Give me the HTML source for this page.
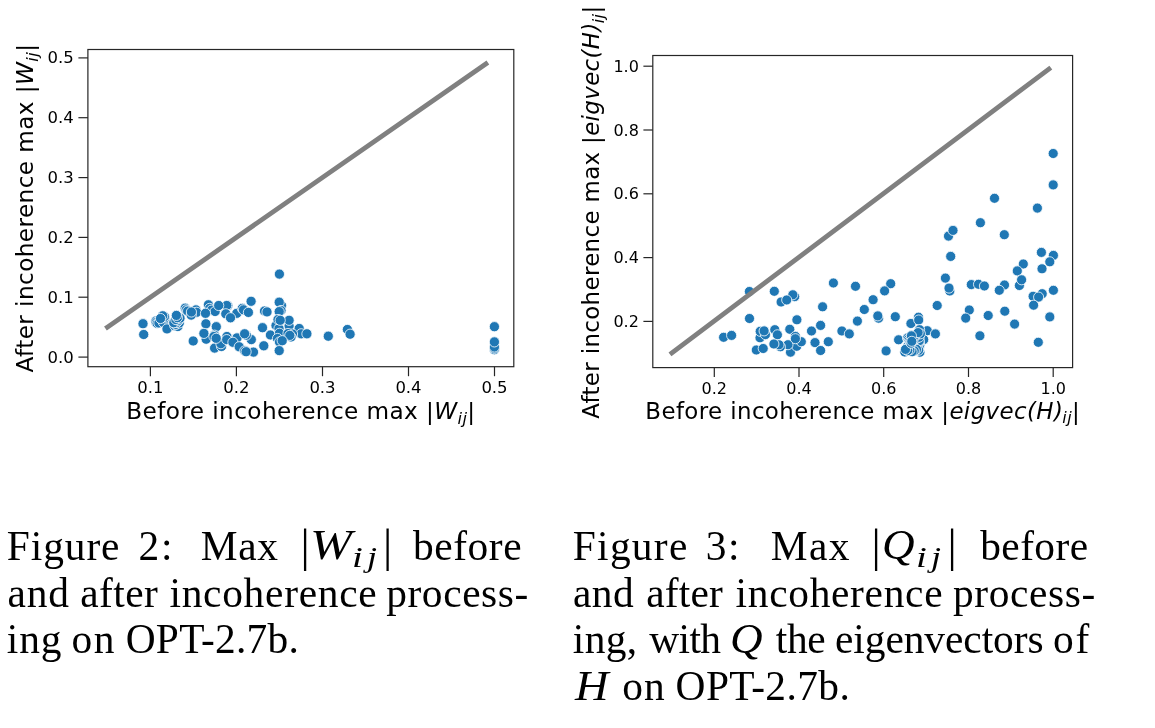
<!DOCTYPE html>
<html lang="en"><head><meta charset="utf-8"><title>Figures 2 and 3</title>
<style>
html,body{margin:0;padding:0;background:#fff;}
body{width:1155px;height:728px;position:relative;overflow:hidden;font-family:"Liberation Serif","Times New Roman",serif;color:#000;}
svg{position:absolute;left:0;top:0;}
svg text{font-family:"DejaVu Sans","Liberation Sans",sans-serif;}
.cap{position:absolute;left:0;top:0;width:1155px;height:728px;font-size:41.40px;line-height:46px;}
.w{position:absolute;white-space:nowrap;display:inline-block;transform-origin:0 50%;}
.m{font-style:italic;}
</style></head><body>
<svg width="1155" height="728" viewBox="0 0 1155 728">
<rect width="1155" height="728" fill="#ffffff"/>
<g fill="#1f77b4" stroke="#ffffff" stroke-width="0.80">
<circle cx="143.0" cy="323.7" r="5.10"/>
<circle cx="143.7" cy="334.5" r="5.10"/>
<circle cx="155.8" cy="321.0" r="5.10"/>
<circle cx="156.1" cy="322.4" r="5.10"/>
<circle cx="157.2" cy="323.4" r="5.10"/>
<circle cx="158.9" cy="323.0" r="5.10"/>
<circle cx="163.4" cy="322.4" r="5.10"/>
<circle cx="164.8" cy="317.9" r="5.10"/>
<circle cx="164.4" cy="316.5" r="5.10"/>
<circle cx="162.7" cy="315.8" r="5.10"/>
<circle cx="160.5" cy="318.5" r="5.10"/>
<circle cx="167.0" cy="328.9" r="5.10"/>
<circle cx="174.8" cy="325.8" r="5.10"/>
<circle cx="177.9" cy="326.5" r="5.10"/>
<circle cx="175.9" cy="324.4" r="5.10"/>
<circle cx="179.3" cy="323.0" r="5.10"/>
<circle cx="176.6" cy="322.4" r="5.10"/>
<circle cx="173.8" cy="322.7" r="5.10"/>
<circle cx="178.6" cy="320.3" r="5.10"/>
<circle cx="175.9" cy="319.6" r="5.10"/>
<circle cx="180.0" cy="318.2" r="5.10"/>
<circle cx="177.4" cy="317.7" r="5.10"/>
<circle cx="176.4" cy="315.4" r="5.10"/>
<circle cx="185.2" cy="308.2" r="5.10"/>
<circle cx="186.2" cy="309.9" r="5.10"/>
<circle cx="187.6" cy="311.1" r="5.10"/>
<circle cx="195.9" cy="309.9" r="5.10"/>
<circle cx="196.6" cy="312.3" r="5.10"/>
<circle cx="191.2" cy="315.1" r="5.10"/>
<circle cx="191.4" cy="312.0" r="5.10"/>
<circle cx="193.2" cy="341.0" r="5.10"/>
<circle cx="208.4" cy="304.8" r="5.10"/>
<circle cx="209.7" cy="308.4" r="5.10"/>
<circle cx="211.5" cy="310.2" r="5.10"/>
<circle cx="215.1" cy="311.5" r="5.10"/>
<circle cx="205.5" cy="313.3" r="5.10"/>
<circle cx="227.8" cy="305.6" r="5.10"/>
<circle cx="226.7" cy="305.5" r="5.10"/>
<circle cx="218.7" cy="305.5" r="5.10"/>
<circle cx="225.8" cy="313.8" r="5.10"/>
<circle cx="236.8" cy="313.3" r="5.10"/>
<circle cx="230.5" cy="317.8" r="5.10"/>
<circle cx="242.3" cy="308.4" r="5.10"/>
<circle cx="243.5" cy="309.8" r="5.10"/>
<circle cx="248.4" cy="312.4" r="5.10"/>
<circle cx="251.1" cy="301.3" r="5.10"/>
<circle cx="205.9" cy="323.8" r="5.10"/>
<circle cx="216.3" cy="326.7" r="5.10"/>
<circle cx="206.2" cy="339.2" r="5.10"/>
<circle cx="203.9" cy="333.4" r="5.10"/>
<circle cx="214.6" cy="348.1" r="5.10"/>
<circle cx="221.5" cy="346.5" r="5.10"/>
<circle cx="220.9" cy="343.7" r="5.10"/>
<circle cx="214.6" cy="335.2" r="5.10"/>
<circle cx="213.9" cy="336.5" r="5.10"/>
<circle cx="216.2" cy="338.3" r="5.10"/>
<circle cx="226.9" cy="336.5" r="5.10"/>
<circle cx="226.7" cy="339.6" r="5.10"/>
<circle cx="237.0" cy="337.9" r="5.10"/>
<circle cx="232.9" cy="342.3" r="5.10"/>
<circle cx="239.2" cy="346.8" r="5.10"/>
<circle cx="244.7" cy="350.9" r="5.10"/>
<circle cx="251.3" cy="339.6" r="5.10"/>
<circle cx="246.3" cy="335.2" r="5.10"/>
<circle cx="244.6" cy="333.8" r="5.10"/>
<circle cx="253.5" cy="352.1" r="5.10"/>
<circle cx="246.1" cy="351.7" r="5.10"/>
<circle cx="279.4" cy="274.1" r="5.10"/>
<circle cx="281.5" cy="305.5" r="5.10"/>
<circle cx="279.2" cy="302.2" r="5.10"/>
<circle cx="264.5" cy="311.0" r="5.10"/>
<circle cx="267.0" cy="311.9" r="5.10"/>
<circle cx="281.0" cy="310.5" r="5.10"/>
<circle cx="279.2" cy="311.6" r="5.10"/>
<circle cx="276.0" cy="325.5" r="5.10"/>
<circle cx="289.1" cy="326.0" r="5.10"/>
<circle cx="289.1" cy="320.3" r="5.10"/>
<circle cx="279.0" cy="328.5" r="5.10"/>
<circle cx="278.0" cy="319.5" r="5.10"/>
<circle cx="280.2" cy="320.3" r="5.10"/>
<circle cx="262.5" cy="327.7" r="5.10"/>
<circle cx="299.2" cy="328.5" r="5.10"/>
<circle cx="301.2" cy="333.8" r="5.10"/>
<circle cx="306.9" cy="333.8" r="5.10"/>
<circle cx="270.4" cy="335.0" r="5.10"/>
<circle cx="279.5" cy="333.3" r="5.10"/>
<circle cx="292.5" cy="334.0" r="5.10"/>
<circle cx="291.0" cy="337.0" r="5.10"/>
<circle cx="288.0" cy="333.5" r="5.10"/>
<circle cx="289.8" cy="335.4" r="5.10"/>
<circle cx="277.5" cy="338.5" r="5.10"/>
<circle cx="279.5" cy="342.0" r="5.10"/>
<circle cx="282.2" cy="340.7" r="5.10"/>
<circle cx="263.8" cy="345.8" r="5.10"/>
<circle cx="279.2" cy="350.6" r="5.10"/>
<circle cx="328.3" cy="336.2" r="5.10"/>
<circle cx="347.4" cy="329.5" r="5.10"/>
<circle cx="350.1" cy="334.2" r="5.10"/>
<circle cx="494.4" cy="349.7" r="5.10"/>
<circle cx="494.4" cy="348.3" r="5.10"/>
<circle cx="494.4" cy="347.0" r="5.10"/>
<circle cx="494.4" cy="341.9" r="5.10"/>
<circle cx="494.4" cy="326.7" r="5.10"/>
</g>
<line x1="107.4" y1="327.2" x2="485.9" y2="63.8" stroke="#808080" stroke-width="4.80" stroke-linecap="square"/>
<g stroke="#262626" stroke-width="1.20">
<line x1="150.4" y1="366.7" x2="150.4" y2="376.2"/>
<line x1="236.4" y1="366.7" x2="236.4" y2="376.2"/>
<line x1="322.5" y1="366.7" x2="322.5" y2="376.2"/>
<line x1="408.5" y1="366.7" x2="408.5" y2="376.2"/>
<line x1="494.5" y1="366.7" x2="494.5" y2="376.2"/>
<line x1="78.4" y1="357.1" x2="87.9" y2="357.1"/>
<line x1="78.4" y1="297.2" x2="87.9" y2="297.2"/>
<line x1="78.4" y1="237.4" x2="87.9" y2="237.4"/>
<line x1="78.4" y1="177.6" x2="87.9" y2="177.6"/>
<line x1="78.4" y1="117.7" x2="87.9" y2="117.7"/>
<line x1="78.4" y1="57.9" x2="87.9" y2="57.9"/>
</g>
<rect x="87.9" y="49.5" width="425.9" height="317.2" fill="none" stroke="#262626" stroke-width="1.20"/>
<g font-size="16.50" fill="#000">
<text x="150.4" y="392.9" text-anchor="middle">0.1</text>
<text x="236.4" y="392.9" text-anchor="middle">0.2</text>
<text x="322.5" y="392.9" text-anchor="middle">0.3</text>
<text x="408.5" y="392.9" text-anchor="middle">0.4</text>
<text x="494.5" y="392.9" text-anchor="middle">0.5</text>
<text x="73.7" y="362.6" text-anchor="end">0.0</text>
<text x="73.7" y="302.8" text-anchor="end">0.1</text>
<text x="73.7" y="242.9" text-anchor="end">0.2</text>
<text x="73.7" y="183.1" text-anchor="end">0.3</text>
<text x="73.7" y="123.2" text-anchor="end">0.4</text>
<text x="73.7" y="63.4" text-anchor="end">0.5</text>
</g>
<text x="126.3" y="418.8" font-size="23.20" letter-spacing="0.40" text-anchor="start" fill="#000">Before incoherence max <tspan dy="1.00">|</tspan><tspan font-style="oblique" dy="-1.00">W</tspan><tspan font-style="oblique" font-size="16.24" dy="4.76">ij</tspan><tspan dy="-3.76">|</tspan></text>
<text x="33.3" y="372.4" font-size="23.20" letter-spacing="0.40" text-anchor="start" fill="#000" transform="rotate(-90 33.3 372.4)">After incoherence max <tspan dy="1.00">|</tspan><tspan font-style="oblique" dy="-1.00">W</tspan><tspan font-style="oblique" font-size="16.24" dy="4.76">ij</tspan><tspan dy="-3.76">|</tspan></text>
<g fill="#1f77b4" stroke="#ffffff" stroke-width="0.80">
<circle cx="749.4" cy="291.5" r="5.05"/>
<circle cx="774.3" cy="291.3" r="5.05"/>
<circle cx="794.7" cy="296.6" r="5.05"/>
<circle cx="792.8" cy="294.8" r="5.05"/>
<circle cx="781.1" cy="302.0" r="5.05"/>
<circle cx="786.7" cy="300.0" r="5.05"/>
<circle cx="822.6" cy="306.8" r="5.05"/>
<circle cx="749.5" cy="318.5" r="5.05"/>
<circle cx="796.9" cy="319.8" r="5.05"/>
<circle cx="820.6" cy="325.4" r="5.05"/>
<circle cx="811.5" cy="331.0" r="5.05"/>
<circle cx="789.8" cy="329.3" r="5.05"/>
<circle cx="774.8" cy="329.7" r="5.05"/>
<circle cx="777.4" cy="334.8" r="5.05"/>
<circle cx="760.0" cy="337.8" r="5.05"/>
<circle cx="760.2" cy="331.3" r="5.05"/>
<circle cx="765.4" cy="334.6" r="5.05"/>
<circle cx="764.1" cy="330.9" r="5.05"/>
<circle cx="723.6" cy="337.3" r="5.05"/>
<circle cx="731.6" cy="335.4" r="5.05"/>
<circle cx="790.5" cy="352.2" r="5.05"/>
<circle cx="796.7" cy="346.3" r="5.05"/>
<circle cx="801.3" cy="341.7" r="5.05"/>
<circle cx="788.0" cy="344.7" r="5.05"/>
<circle cx="795.4" cy="336.4" r="5.05"/>
<circle cx="795.4" cy="338.7" r="5.05"/>
<circle cx="780.4" cy="346.8" r="5.05"/>
<circle cx="779.0" cy="344.8" r="5.05"/>
<circle cx="773.9" cy="344.0" r="5.05"/>
<circle cx="756.3" cy="350.0" r="5.05"/>
<circle cx="763.2" cy="348.5" r="5.05"/>
<circle cx="815.0" cy="342.6" r="5.05"/>
<circle cx="820.6" cy="350.5" r="5.05"/>
<circle cx="828.3" cy="341.7" r="5.05"/>
<circle cx="833.4" cy="283.0" r="5.05"/>
<circle cx="855.5" cy="286.3" r="5.05"/>
<circle cx="890.7" cy="283.7" r="5.05"/>
<circle cx="884.6" cy="290.9" r="5.05"/>
<circle cx="873.1" cy="299.7" r="5.05"/>
<circle cx="864.3" cy="309.5" r="5.05"/>
<circle cx="878.6" cy="318.2" r="5.05"/>
<circle cx="877.8" cy="315.9" r="5.05"/>
<circle cx="895.3" cy="316.7" r="5.05"/>
<circle cx="857.4" cy="321.1" r="5.05"/>
<circle cx="841.9" cy="331.0" r="5.05"/>
<circle cx="849.3" cy="333.9" r="5.05"/>
<circle cx="886.1" cy="350.9" r="5.05"/>
<circle cx="898.6" cy="339.8" r="5.05"/>
<circle cx="910.9" cy="323.5" r="5.05"/>
<circle cx="918.5" cy="317.2" r="5.05"/>
<circle cx="918.7" cy="320.0" r="5.05"/>
<circle cx="937.2" cy="305.5" r="5.05"/>
<circle cx="927.3" cy="330.7" r="5.05"/>
<circle cx="935.4" cy="333.9" r="5.05"/>
<circle cx="919.6" cy="329.7" r="5.05"/>
<circle cx="904.8" cy="352.0" r="5.05"/>
<circle cx="911.4" cy="347.9" r="5.05"/>
<circle cx="923.7" cy="339.6" r="5.05"/>
<circle cx="911.4" cy="335.5" r="5.05"/>
<circle cx="906.5" cy="349.5" r="5.05"/>
<circle cx="908.2" cy="345.2" r="5.05"/>
<circle cx="919.9" cy="352.2" r="5.05"/>
<circle cx="915.3" cy="351.0" r="5.05"/>
<circle cx="916.3" cy="349.9" r="5.05"/>
<circle cx="919.1" cy="348.7" r="5.05"/>
<circle cx="915.5" cy="347.6" r="5.05"/>
<circle cx="915.0" cy="346.4" r="5.05"/>
<circle cx="919.7" cy="345.2" r="5.05"/>
<circle cx="918.3" cy="344.1" r="5.05"/>
<circle cx="915.5" cy="343.0" r="5.05"/>
<circle cx="919.2" cy="341.8" r="5.05"/>
<circle cx="919.2" cy="340.7" r="5.05"/>
<circle cx="914.5" cy="339.5" r="5.05"/>
<circle cx="916.4" cy="338.4" r="5.05"/>
<circle cx="919.1" cy="337.2" r="5.05"/>
<circle cx="915.5" cy="336.1" r="5.05"/>
<circle cx="915.8" cy="334.9" r="5.05"/>
<circle cx="920.4" cy="333.8" r="5.05"/>
<circle cx="918.1" cy="332.6" r="5.05"/>
<circle cx="918.7" cy="350.2" r="5.05"/>
<circle cx="916.5" cy="349.3" r="5.05"/>
<circle cx="914.3" cy="350.8" r="5.05"/>
<circle cx="912.1" cy="351.7" r="5.05"/>
<circle cx="909.9" cy="349.8" r="5.05"/>
<circle cx="907.7" cy="350.6" r="5.05"/>
<circle cx="905.5" cy="349.4" r="5.05"/>
<circle cx="907.5" cy="338.0" r="5.05"/>
<circle cx="908.4" cy="339.3" r="5.05"/>
<circle cx="909.3" cy="340.6" r="5.05"/>
<circle cx="910.2" cy="341.9" r="5.05"/>
<circle cx="911.1" cy="343.2" r="5.05"/>
<circle cx="911.4" cy="335.8" r="5.05"/>
<circle cx="911.8" cy="341.3" r="5.05"/>
<circle cx="950.7" cy="256.4" r="5.05"/>
<circle cx="945.4" cy="278.1" r="5.05"/>
<circle cx="949.8" cy="291.0" r="5.05"/>
<circle cx="949.0" cy="288.1" r="5.05"/>
<circle cx="971.3" cy="284.6" r="5.05"/>
<circle cx="978.5" cy="284.3" r="5.05"/>
<circle cx="984.4" cy="286.0" r="5.05"/>
<circle cx="969.3" cy="310.0" r="5.05"/>
<circle cx="965.7" cy="318.1" r="5.05"/>
<circle cx="988.2" cy="315.5" r="5.05"/>
<circle cx="979.9" cy="335.8" r="5.05"/>
<circle cx="1004.5" cy="285.0" r="5.05"/>
<circle cx="999.3" cy="290.3" r="5.05"/>
<circle cx="1004.8" cy="311.2" r="5.05"/>
<circle cx="1014.6" cy="324.1" r="5.05"/>
<circle cx="1023.3" cy="264.0" r="5.05"/>
<circle cx="1017.3" cy="270.9" r="5.05"/>
<circle cx="1019.4" cy="285.5" r="5.05"/>
<circle cx="1021.6" cy="279.8" r="5.05"/>
<circle cx="1041.4" cy="252.4" r="5.05"/>
<circle cx="1053.4" cy="255.4" r="5.05"/>
<circle cx="1049.8" cy="261.8" r="5.05"/>
<circle cx="1042.0" cy="268.8" r="5.05"/>
<circle cx="1053.4" cy="290.3" r="5.05"/>
<circle cx="1042.2" cy="293.7" r="5.05"/>
<circle cx="1033.1" cy="296.3" r="5.05"/>
<circle cx="1038.6" cy="297.1" r="5.05"/>
<circle cx="1033.6" cy="305.2" r="5.05"/>
<circle cx="1049.8" cy="316.9" r="5.05"/>
<circle cx="1038.3" cy="342.3" r="5.05"/>
<circle cx="1053.2" cy="153.5" r="5.05"/>
<circle cx="1053.2" cy="184.9" r="5.05"/>
<circle cx="994.5" cy="198.3" r="5.05"/>
<circle cx="1037.4" cy="208.1" r="5.05"/>
<circle cx="980.4" cy="222.7" r="5.05"/>
<circle cx="948.5" cy="236.1" r="5.05"/>
<circle cx="953.0" cy="230.4" r="5.05"/>
<circle cx="1004.3" cy="234.7" r="5.05"/>
</g>
<line x1="671.9" y1="352.9" x2="1048.9" y2="69.0" stroke="#808080" stroke-width="4.80" stroke-linecap="square"/>
<g stroke="#262626" stroke-width="1.20">
<line x1="714.3" y1="367.6" x2="714.3" y2="377.0"/>
<line x1="799.0" y1="367.6" x2="799.0" y2="377.0"/>
<line x1="883.7" y1="367.6" x2="883.7" y2="377.0"/>
<line x1="968.5" y1="367.6" x2="968.5" y2="377.0"/>
<line x1="1053.2" y1="367.6" x2="1053.2" y2="377.0"/>
<line x1="643.4" y1="321.4" x2="652.8" y2="321.4"/>
<line x1="643.4" y1="257.6" x2="652.8" y2="257.6"/>
<line x1="643.4" y1="193.8" x2="652.8" y2="193.8"/>
<line x1="643.4" y1="130.0" x2="652.8" y2="130.0"/>
<line x1="643.4" y1="66.2" x2="652.8" y2="66.2"/>
</g>
<rect x="652.8" y="55.5" width="419.8" height="312.1" fill="none" stroke="#262626" stroke-width="1.20"/>
<g font-size="16.00" fill="#000">
<text x="714.3" y="393.7" text-anchor="middle">0.2</text>
<text x="799.0" y="393.7" text-anchor="middle">0.4</text>
<text x="883.7" y="393.7" text-anchor="middle">0.6</text>
<text x="968.5" y="393.7" text-anchor="middle">0.8</text>
<text x="1053.2" y="393.7" text-anchor="middle">1.0</text>
<text x="638.9" y="327.0" text-anchor="end">0.2</text>
<text x="638.9" y="263.2" text-anchor="end">0.4</text>
<text x="638.9" y="199.4" text-anchor="end">0.6</text>
<text x="638.9" y="135.6" text-anchor="end">0.8</text>
<text x="638.9" y="71.8" text-anchor="end">1.0</text>
</g>
<text x="645.3" y="418.8" font-size="22.90" letter-spacing="0.40" text-anchor="start" fill="#000">Before incoherence max <tspan dy="1.00">|</tspan><tspan font-style="oblique" dy="-1.00">eigvec(H)</tspan><tspan font-style="oblique" font-size="16.03" dy="4.69" dx="-0.9">ij</tspan><tspan dy="-3.69">|</tspan></text>
<text x="599.4" y="418.7" font-size="22.90" letter-spacing="0.36" text-anchor="start" fill="#000" transform="rotate(-90 599.4 418.7)">After incoherence max <tspan dy="1.00">|</tspan><tspan font-style="oblique" dy="-1.00">eigvec(H)</tspan><tspan font-style="oblique" font-size="16.03" dy="4.69" dx="-0.9">ij</tspan><tspan dy="-3.69">|</tspan></text>
</svg>
<div class="cap" id="c1">
<span class="w" id="a1" style="left:6.80px;top:522.80px;letter-spacing:0.920px">Figure</span> <span class="w" id="a2" style="left:138.40px;top:522.80px;letter-spacing:1.800px">2:</span> <span class="w" id="a3" style="left:200.70px;top:522.80px;letter-spacing:0.700px">Max</span>
<span class="w r" id="m1" style="left:300.50px;top:517.50px;font-size:46.00px;line-height:55.20px;">|</span>
<span class="w m" id="m2" style="left:309.90px;top:519.20px;font-size:43.00px;line-height:51.60px;transform:scaleX(1.170);">W</span>
<span class="w m" id="m3" style="left:352.00px;top:538.50px;font-size:30.00px;line-height:36.00px;transform:scaleX(1.300);">i</span>
<span class="w m" id="m3b" style="left:367.20px;top:538.50px;font-size:30.00px;line-height:36.00px;transform:scaleX(1.200);">j</span>
<span class="w r" id="m4" style="left:382.90px;top:517.50px;font-size:46.00px;line-height:55.20px;">|</span>
<span class="w" id="a4" style="left:413.00px;top:522.80px;letter-spacing:0.560px">before</span>
<span class="w" id="a5" style="left:7.50px;top:569.60px;letter-spacing:0.800px">and</span> <span class="w" id="a6" style="left:80.30px;top:569.60px;letter-spacing:0.450px">after</span> <span class="w" id="a7" style="left:169.40px;top:569.60px;letter-spacing:0.740px">incoherence</span> <span class="w" id="a8" style="left:386.20px;top:569.60px;letter-spacing:0.600px">process-</span>
<span class="w" id="a9" style="left:6.80px;top:616.20px;letter-spacing:0.900px">ing</span> <span class="w" id="a10" style="left:71.40px;top:616.20px;letter-spacing:1.600px">on</span> <span class="w" id="a11" style="left:125.70px;top:616.20px;letter-spacing:0.274px">OPT-2.7b.</span>
</div>
<div class="cap" id="c2">
<span class="w" id="b1" style="left:572.80px;top:522.80px;letter-spacing:1.280px">Figure</span> <span class="w" id="b2" style="left:705.80px;top:522.80px;letter-spacing:1.600px">3:</span> <span class="w" id="b3" style="left:770.70px;top:522.80px;letter-spacing:1.400px">Max</span>
<span class="w r" id="n1" style="left:871.60px;top:517.50px;font-size:46.00px;line-height:55.20px;">|</span>
<span class="w m" id="n2" style="left:881.80px;top:519.20px;font-size:43.00px;line-height:51.60px;transform:scaleX(1.050);">Q</span>
<span class="w m" id="n3" style="left:916.30px;top:538.50px;font-size:30.00px;line-height:36.00px;transform:scaleX(1.300);">i</span>
<span class="w m" id="n3b" style="left:931.40px;top:538.50px;font-size:30.00px;line-height:36.00px;transform:scaleX(1.200);">j</span>
<span class="w r" id="n4" style="left:947.50px;top:517.50px;font-size:46.00px;line-height:55.20px;">|</span>
<span class="w" id="b4" style="left:980.20px;top:522.80px;letter-spacing:0.440px">before</span>
<span class="w" id="b5" style="left:573.10px;top:569.60px;letter-spacing:0.400px">and</span> <span class="w" id="b6" style="left:646.30px;top:569.60px;letter-spacing:0.150px">after</span> <span class="w" id="b7" style="left:735.60px;top:569.60px;letter-spacing:0.700px">incoherence</span> <span class="w" id="b8" style="left:953.00px;top:569.60px;letter-spacing:0.629px">process-</span>
<span class="w" id="b9" style="left:572.80px;top:616.20px;letter-spacing:0.334px">ing,</span> <span class="w" id="b10" style="left:649.20px;top:616.20px;letter-spacing:-0.600px">with</span>
<span class="w m" id="n5" style="left:730.20px;top:612.50px;font-size:43.00px;line-height:51.60px;transform:scaleX(1.050);">Q</span>
<span class="w" id="b11" style="left:775.80px;top:616.20px;letter-spacing:-0.400px">the</span> <span class="w" id="b12" style="left:835.00px;top:616.20px;letter-spacing:-0.054px">eigenvectors</span> <span class="w" id="b13" style="left:1053.10px;top:616.20px;letter-spacing:1.800px">of</span>
<span class="w m" id="n6" style="left:575.30px;top:659.60px;font-size:43.00px;line-height:51.60px;transform:scaleX(1.080);">H</span>
<span class="w" id="b14" style="left:622.20px;top:662.50px;letter-spacing:1.200px">on</span> <span class="w" id="b15" style="left:675.60px;top:662.50px;letter-spacing:0.399px">OPT-2.7b.</span>
</div>
</body></html>
